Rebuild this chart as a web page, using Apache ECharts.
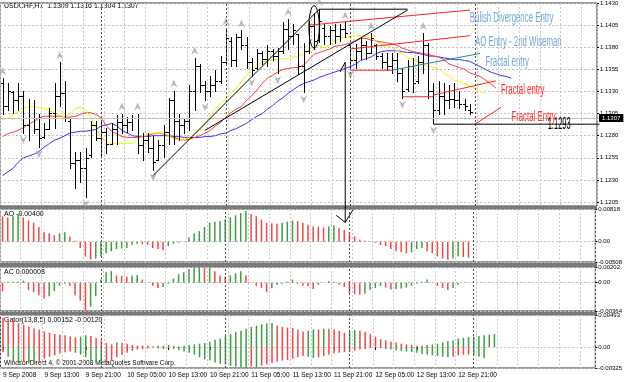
<!DOCTYPE html>
<html>
<head>
<meta charset="utf-8">
<script src="https://cdn.jsdelivr.net/npm/echarts@6/dist/echarts.min.js"></script>
<style>
html, body { margin: 0; padding: 0; background: #fff; }
#chart { width: 625px; height: 382px; }
</style>
</head>
<body>
<div id="chart"></div>
<script>
// USDCHF H1, 9 Sep 05:00 .. 12 Sep 23:00 (91 bars), right side left empty like the terminal
const SLOTS = 115;
const categories = [];
for (let k = 0; k < SLOTS; k++) {
  const h = 5 + k;
  categories.push((9 + Math.floor(h / 24)) + ' Sep ' + String(h % 24).padStart(2, '0') + ':00');
}
const tickIndex = [0, 8, 16, 24, 32, 40, 48, 56, 64, 72, 80, 88];
const tickText = ['9 Sep 2008', '9 Sep 13:00', '9 Sep 21:00', '10 Sep 05:00', '10 Sep 13:00', '10 Sep 21:00',
  '11 Sep 05:00', '11 Sep 13:00', '11 Sep 21:00', '12 Sep 05:00', '12 Sep 13:00', '12 Sep 21:00'];
const daySeparators = [19, 43, 67, 91];
const priceTicks = [1.1205, 1.1230, 1.1255, 1.1280, 1.1305, 1.1330, 1.1355, 1.1380, 1.1405, 1.1430];

const opens = [1.1340,1.1314,1.1329,1.1320,1.1325,1.1292,1.1300,1.1288,1.1279,1.1288,
  1.1306,1.1325,1.1328,1.1297,1.1249,1.1252,1.1243,1.1258,1.1292,1.1277,
  1.1284,1.1271,1.1288,1.1295,1.1292,1.1295,1.1300,1.1269,1.1275,1.1266,
  1.1252,1.1269,1.1284,1.1320,1.1297,1.1292,1.1297,1.1331,1.1359,1.1337,
  1.1331,1.1337,1.1342,1.1363,1.1387,1.1365,1.1391,1.1382,1.1363,1.1357,
  1.1374,1.1367,1.1376,1.1370,1.1376,1.1401,1.1393,1.1395,1.1359,1.1376,
  1.1404,1.1388,1.1402,1.1393,1.1399,1.1393,1.1401,1.1382,1.1365,1.1376,
  1.1382,1.1374,1.1382,1.1370,1.1363,1.1359,1.1365,1.1351,1.1333,1.1359,
  1.1342,1.1363,1.1382,1.1331,1.1309,1.1325,1.1320,1.1322,1.1320,1.1316,
  1.1309];
const highs = [1.1345,1.1340,1.1331,1.1340,1.1331,1.1322,1.1320,1.1305,1.1294,1.1311,
  1.1339,1.1363,1.1342,1.1300,1.1261,1.1261,1.1266,1.1297,1.1297,1.1297,
  1.1289,1.1294,1.1303,1.1305,1.1301,1.1303,1.1305,1.1283,1.1283,1.1280,
  1.1275,1.1292,1.1323,1.1331,1.1305,1.1300,1.1337,1.1368,1.1361,1.1342,
  1.1348,1.1354,1.1370,1.1401,1.1392,1.1395,1.1399,1.1392,1.1368,1.1378,
  1.1376,1.1382,1.1378,1.1379,1.1408,1.1412,1.1406,1.1395,1.1385,1.1410,
  1.1419,1.1423,1.1406,1.1404,1.1406,1.1406,1.1408,1.1384,1.1384,1.1391,
  1.1387,1.1396,1.1384,1.1374,1.1373,1.1374,1.1373,1.1357,1.1365,1.1368,
  1.1370,1.1396,1.1385,1.1339,1.1342,1.1339,1.1337,1.1340,1.1331,1.1322,
  1.1316];
const lows = [1.1305,1.1309,1.1306,1.1309,1.1283,1.1275,1.1283,1.1267,1.1277,1.1288,
  1.1289,1.1314,1.1297,1.1244,1.1221,1.1228,1.1211,1.1256,1.1275,1.1256,
  1.1260,1.1271,1.1271,1.1283,1.1284,1.1286,1.1260,1.1252,1.1261,1.1241,
  1.1252,1.1256,1.1271,1.1271,1.1275,1.1283,1.1286,1.1309,1.1329,1.1320,
  1.1325,1.1331,1.1340,1.1361,1.1359,1.1359,1.1378,1.1357,1.1348,1.1355,
  1.1361,1.1359,1.1365,1.1351,1.1374,1.1378,1.1384,1.1350,1.1329,1.1374,
  1.1378,1.1386,1.1384,1.1384,1.1385,1.1387,1.1391,1.1357,1.1357,1.1367,
  1.1367,1.1373,1.1367,1.1356,1.1354,1.1351,1.1342,1.1323,1.1331,1.1329,
  1.1340,1.1351,1.1323,1.1294,1.1305,1.1305,1.1311,1.1312,1.1311,1.1309,
  1.1304];
const closes = [1.1314,1.1331,1.1320,1.1325,1.1292,1.1300,1.1288,1.1277,1.1288,1.1306,
  1.1325,1.1328,1.1300,1.1249,1.1252,1.1243,1.1255,1.1292,1.1277,1.1284,
  1.1271,1.1288,1.1295,1.1292,1.1295,1.1300,1.1269,1.1275,1.1266,1.1250,
  1.1269,1.1284,1.1320,1.1297,1.1292,1.1297,1.1331,1.1359,1.1337,1.1331,
  1.1337,1.1342,1.1363,1.1390,1.1365,1.1391,1.1382,1.1363,1.1354,1.1374,
  1.1367,1.1376,1.1370,1.1376,1.1401,1.1393,1.1399,1.1359,1.1376,1.1404,
  1.1387,1.1410,1.1393,1.1399,1.1393,1.1401,1.1396,1.1365,1.1376,1.1382,
  1.1374,1.1390,1.1370,1.1363,1.1359,1.1365,1.1351,1.1331,1.1359,1.1340,
  1.1363,1.1382,1.1331,1.1309,1.1325,1.1320,1.1322,1.1320,1.1316,1.1313,
  1.1307];

// Alligator: jaw (blue), teeth (red), lips (yellow), already shifted forward
const jaw = [1.1235,1.1239,1.1243,1.1250,1.1255,1.1257,1.1259,1.1262,1.1267,1.1271,
  1.1275,1.1277,1.1280,1.1283,1.1284,1.1285,1.1285,1.1286,1.1287,1.1291,
  1.1292,1.1294,1.1291,1.1286,1.1283,1.1280,1.1279,1.1279,1.1279,1.1280,
  1.1280,1.1280,1.1280,1.1279,1.1279,1.1278,1.1278,1.1278,1.1278,1.1279,
  1.1279,1.1280,1.1282,1.1283,1.1286,1.1288,1.1291,1.1294,1.1298,1.1302,
  1.1305,1.1310,1.1314,1.1319,1.1323,1.1328,1.1332,1.1336,1.1339,1.1341,
  1.1343,1.1346,1.1348,1.1350,1.1352,1.1354,1.1356,1.1358,1.1361,1.1365,
  1.1367,1.1369,1.1373,1.1375,1.1376,1.1376,1.1376,1.1375,1.1374,1.1374,
  1.1373,1.1372,1.1370,1.1370,1.1369,1.1368,1.1367,1.1366,1.1366,1.1365,
  1.1364,1.1361,1.1358,1.1355,1.1352,1.1350,1.1348,1.1347,1.1345];
const teeth = [1.1279,1.1282,1.1284,1.1286,1.1289,1.1293,1.1296,1.1300,1.1302,1.1302,
  1.1302,1.1302,1.1301,1.1301,1.1302,1.1304,1.1306,1.1306,1.1304,1.1300,
  1.1291,1.1285,1.1282,1.1279,1.1278,1.1278,1.1278,1.1279,1.1280,1.1282,
  1.1283,1.1282,1.1280,1.1278,1.1276,1.1275,1.1276,1.1278,1.1280,1.1283,
  1.1286,1.1291,1.1295,1.1301,1.1306,1.1310,1.1313,1.1320,1.1325,1.1332,
  1.1339,1.1345,1.1348,1.1352,1.1355,1.1356,1.1357,1.1357,1.1360,1.1366,
  1.1372,1.1374,1.1376,1.1378,1.1381,1.1382,1.1383,1.1385,1.1387,1.1390,
  1.1390,1.1388,1.1387,1.1386,1.1385,1.1384,1.1382,1.1379,1.1377,1.1375,
  1.1374,1.1373,1.1372,1.1370,1.1369,1.1366,1.1361,1.1359,1.1357,1.1355,
  1.1351,1.1349,1.1347,1.1343,1.1339,1.1334];
const lips = [1.1298,1.1300,1.1303,1.1307,1.1311,1.1313,1.1313,1.1312,1.1310,1.1309,
  1.1305,1.1303,1.1301,1.1305,1.1311,1.1312,1.1309,1.1301,1.1288,1.1278,
  1.1273,1.1271,1.1271,1.1271,1.1271,1.1271,1.1276,1.1279,1.1282,1.1283,
  1.1283,1.1283,1.1280,1.1276,1.1275,1.1276,1.1278,1.1282,1.1286,1.1293,
  1.1302,1.1311,1.1316,1.1322,1.1328,1.1334,1.1341,1.1348,1.1356,1.1359,
  1.1363,1.1365,1.1366,1.1366,1.1367,1.1367,1.1369,1.1370,1.1372,1.1376,
  1.1382,1.1382,1.1379,1.1383,1.1387,1.1390,1.1391,1.1392,1.1393,1.1393,
  1.1392,1.1390,1.1386,1.1384,1.1382,1.1379,1.1376,1.1373,1.1368,1.1366,
  1.1363,1.1360,1.1358,1.1357,1.1356,1.1351,1.1347,1.1343,1.1341,1.1339,
  1.1336,1.1333,1.1330,1.1328];

const fractalUp = [0, 11, 23, 26, 33, 37, 43, 46, 55, 61, 66, 71, 81];
const fractalDown = [4, 7, 16, 29, 39, 48, 53, 58, 67, 77, 83];

const ao = [0.00634,0.00607,0.00634,0.00686,0.00607,0.00528,0.00475,0.00370,0.00238,0.00211,
  0.00158,0.00211,0.00238,0.00132,0.00026,-0.00158,-0.00370,-0.00449,-0.00422,-0.00370,
  -0.00290,-0.00238,-0.00185,-0.00172,-0.00158,-0.00079,-0.00053,-0.00066,-0.00079,-0.00158,
  -0.00185,-0.00211,-0.00106,-0.00053,-0.00026,0.00008,0.00106,0.00211,0.00264,0.00370,
  0.00475,0.00502,0.00515,0.00554,0.00607,0.00660,0.00713,0.00766,0.00686,0.00634,
  0.00554,0.00475,0.00462,0.00449,0.00475,0.00502,0.00528,0.00515,0.00475,0.00422,
  0.00383,0.00370,0.00356,0.00383,0.00409,0.00343,0.00290,0.00238,0.00132,0.00053,
  0.00026,0.00013,-0.00026,-0.00079,-0.00106,-0.00185,-0.00238,-0.00264,-0.00290,-0.00264,
  -0.00185,-0.00158,-0.00238,-0.00290,-0.00370,-0.00422,-0.00449,-0.00422,-0.00370,-0.00385,
  -0.00400];
const ac = [-0.00108,0.00013,0.00015,0.00016,0.00027,-0.00094,-0.00121,-0.00162,-0.00202,-0.00175,
  -0.00108,-0.00040,-0.00013,-0.00040,-0.00162,-0.00229,-0.00360,-0.00310,-0.00175,0.00040,
  0.00135,0.00148,0.00094,0.00090,0.00081,0.00094,0.00098,0.00040,0.00002,-0.00040,
  -0.00067,-0.00054,-0.00013,0.00054,0.00108,0.00135,0.00175,0.00189,0.00202,0.00189,
  0.00195,0.00148,0.00094,0.00081,0.00094,0.00121,0.00148,0.00094,0.00002,-0.00040,
  -0.00067,-0.00121,-0.00067,-0.00027,-0.00013,0.00013,0.00040,-0.00013,-0.00040,-0.00045,
  -0.00081,-0.00027,0.00002,0.00020,0.00013,-0.00027,-0.00054,-0.00135,-0.00148,-0.00155,
  -0.00141,-0.00094,-0.00067,-0.00040,-0.00061,-0.00088,-0.00081,-0.00074,-0.00061,-0.00040,
  -0.00013,0.00013,0.00040,0.00002,-0.00040,-0.00067,-0.00094,-0.00067,-0.00027,0.00000,
  0.000008];
const gatorUp = [0.0045,0.0043,0.0041,0.0037,0.0034,0.0031,0.0029,0.0027,0.0024,0.0022,
  0.0020,0.0019,0.0018,0.0016,0.0015,0.0016,0.0018,0.0017,0.0014,0.0010,
  0.0006,0.0004,0.0007,0.0006,0.0005,0.0003,0.0002,0.0002,0.0002,0.0001,
  0.0002,0.0002,0.0003,0.0002,0.0001,0.0002,0.0003,0.0004,0.0005,0.0006,
  0.0008,0.0011,0.0013,0.0017,0.0020,0.0023,0.0025,0.0028,0.0031,0.0033,
  0.0035,0.0036,0.0037,0.0033,0.0031,0.0030,0.0029,0.0027,0.0024,0.0025,
  0.0027,0.0027,0.0028,0.0028,0.0027,0.0025,0.0022,0.0024,0.0026,0.0025,
  0.0023,0.0020,0.0016,0.0012,0.0010,0.0008,0.0007,0.0005,0.0004,0.0003,
  0.0002,0.0002,0.0003,0.0004,0.0005,0.0007,0.0009,0.0010,0.0013,0.0014,
  0.00152,0.0016,0.0017,0.0018,0.0019,0.0020];
const gatorDown = [-0.0008,-0.0015,-0.0022,-0.0024,-0.0023,-0.0025,-0.0026,-0.0022,-0.0018,-0.0015,
  -0.0013,-0.0010,-0.0008,-0.0007,-0.0009,-0.0012,-0.0016,-0.0020,-0.0024,-0.0026,
  -0.0025,-0.0021,-0.0016,-0.0012,-0.0009,-0.0006,-0.0004,-0.0003,-0.0002,-0.0001,
  -0.0002,-0.0003,-0.0002,-0.0003,-0.0005,-0.0007,-0.0009,-0.0012,-0.0016,-0.0019,
  -0.0021,-0.0024,-0.0026,-0.0027,-0.0029,-0.0030,-0.0031,-0.0032,-0.0030,-0.0031,
  -0.0029,-0.0027,-0.0025,-0.0023,-0.0021,-0.0020,-0.0018,-0.0016,-0.0014,-0.0015,
  -0.0017,-0.0016,-0.0014,-0.0012,-0.0010,-0.0009,-0.0008,-0.0007,-0.0006,-0.0004,
  -0.0003,-0.0002,-0.0001,-0.0002,-0.0003,-0.0004,-0.0005,-0.0006,-0.0007,-0.0008,
  -0.0009,-0.0011,-0.0012,-0.0013,-0.0014,-0.0015,-0.0016,-0.0015,-0.0013,-0.0012,
  -0.0012,-0.0013,-0.0015,-0.0017];

// hand-drawn objects, in [bar index, price]
const blackLines = [
  [[28.8, 1.1235], [60.6, 1.1423]],
  [[60.6, 1.1423], [77.5, 1.1423]],
  [[39.0, 1.1286], [77.5, 1.1422]],
  [[82.9, 1.1293], [114.5, 1.1293]],
  [[66.2, 1.1363], [66.2, 1.1182]],
  [[65.2, 1.1352], [66.2, 1.1363]]
];
const redLines = [
  [[59.2, 1.1405], [89.5, 1.1422]],
  [[67.0, 1.1378], [89.7, 1.1393]],
  [[67.0, 1.1354], [75.2, 1.1354]],
  [[77.1, 1.1324], [82.9, 1.1324]],
  [[82.9, 1.1326], [94.5, 1.1342]],
  [[91.0, 1.1293], [96.4, 1.1312]]
];
const tealLines = [[[74.6, 1.1354], [92.0, 1.1373]]];
const ellipseMark = [60.0, 1.1403, 1.2, 0.0024];
const arrowTip = [66.2, 1.1182];
const blueNotes = [[90.4, 1.1413, 'Bulish Divergence Entry'], [90.6, 1.1386, 'AO Entry - 2nd Wiseman'], [92.6, 1.1363, 'Fractal entry']];
const redNotes = [[96.4, 1.1332, 'Fractal entry'], [97.6, 1.1301, 'Fractal Entry']];
const levelNote = [104.5, 1.1292, '1.1293'];

const GREEN = '#3f9f3f';
const RED = '#f04848';
const FONT = '"Liberation Sans", Arial, sans-serif';

const chart = echarts.init(document.getElementById('chart'), null, { renderer: 'canvas' });

const grids = [
  { left: 0, width: 597, top: 2, height: 204 },
  { left: 0, width: 597, top: 209, height: 53 },
  { left: 0, width: 597, top: 267, height: 44 },
  { left: 0, width: 597, top: 315, height: 53 }
];
const ranges = [
  [1.12005, 1.1430, priceTicks],
  [-0.00508, 0.00818, [-0.00508, 0, 0.00818]],
  [-0.00364, 0.00202, [-0.00364, 0, 0.00202]],
  [-0.00325, 0.00493, [-0.00325, 0, 0.00493]]
];

const xAxes = grids.map((g, k) => ({
  type: 'category', gridIndex: k, data: categories, boundaryGap: true,
  axisLine: { show: false },
  axisTick: { show: k === 3, alignWithLabel: true, interval: (i) => tickIndex.includes(i), length: 3, lineStyle: { color: '#000' } },
  axisLabel: {
    show: k === 3, interval: (i) => tickIndex.includes(i),
    formatter: (v, i) => tickText[tickIndex.indexOf(i)] || '',
    align: 'left', fontSize: 6.5, fontFamily: FONT, color: '#000', margin: 4
  },
  splitLine: { show: true, interval: 3, lineStyle: { color: '#c8c8c8', type: [2, 2], width: 1 } }
}));

const yAxes = ranges.map((r, k) => ({
  type: 'value', gridIndex: k, position: 'right', min: r[0], max: r[1], scale: true,
  axisLine: { show: false },
  axisTick: { show: true, customValues: r[2], length: 2, lineStyle: { color: '#000' } },
  axisLabel: {
    customValues: r[2], fontSize: 6, fontFamily: FONT, color: '#000', margin: 3,
    formatter: (v) => k === 0 ? v.toFixed(4) : (v === 0 ? '0.00' : v.toFixed(5))
  },
  splitLine: { show: true, lineStyle: { color: '#c0c0c0', type: [2, 2], width: 1 } }
}));

const separators = {
  silent: true, symbol: 'none', animation: false,
  label: { show: false },
  lineStyle: { color: '#505050', type: [2, 2], width: 1 },
  data: daySeparators.map(i => ({ xAxis: i }))
};

// AO / AC: green when the bar is above the previous one
function aoColor(arr) {
  return (p) => (p.dataIndex > 0 && arr[p.dataIndex] > arr[p.dataIndex - 1]) ? GREEN : RED;
}
// Gator: green when the bar grows away from zero
function gatorColor(arr) {
  return (p) => (p.dataIndex > 0 && Math.abs(arr[p.dataIndex]) > Math.abs(arr[p.dataIndex - 1])) ? GREEN : RED;
}

function renderBar(params, api) {
  const i = api.value(0);
  const pO = api.coord([i, api.value(1)]);
  const pH = api.coord([i, api.value(2)]);
  const pL = api.coord([i, api.value(3)]);
  const pC = api.coord([i, api.value(4)]);
  const x = Math.round(pH[0]) + 0.5;
  const st = { stroke: '#000', lineWidth: 1 };
  return {
    type: 'group', children: [
      { type: 'line', shape: { x1: x, y1: Math.round(pH[1]), x2: x, y2: Math.round(pL[1]) + 1 }, style: st },
      { type: 'line', shape: { x1: x - 2.5, y1: Math.round(pO[1]) + 0.5, x2: x, y2: Math.round(pO[1]) + 0.5 }, style: st },
      { type: 'line', shape: { x1: x, y1: Math.round(pC[1]) + 0.5, x2: x + 2.5, y2: Math.round(pC[1]) + 0.5 }, style: st }
    ]
  };
}

function renderNotes(params, api) {
  const kids = [];
  const seg = (list, color) => list.forEach(([a, b]) => {
    const p1 = api.coord(a), p2 = api.coord(b);
    kids.push({ type: 'line', shape: { x1: p1[0], y1: p1[1], x2: p2[0], y2: p2[1] }, style: { stroke: color, lineWidth: 1 } });
  });
  seg(redLines, '#ff2020');
  seg(tealLines, '#2a8a8a');
  seg(blackLines, '#000');
  const c = api.coord([ellipseMark[0], ellipseMark[1]]);
  const sz = api.size([ellipseMark[2], ellipseMark[3]]);
  kids.push({ type: 'ellipse', shape: { cx: c[0], cy: c[1], rx: sz[0], ry: sz[1] }, style: { fill: 'none', stroke: '#000', lineWidth: 1 } });
  const t = api.coord(arrowTip);
  kids.push({ type: 'polyline', shape: { points: [[t[0] - 9, t[1] - 7], [t[0], t[1]], [t[0] + 8, t[1] - 13]] }, style: { fill: 'none', stroke: '#000', lineWidth: 1 } });
  const note = (n, color, size, sx) => {
    const p = api.coord([n[0], n[1]]);
    kids.push({
      type: 'text', x: p[0], y: p[1], scaleX: sx,
      style: { text: n[2], fill: color, font: size + 'px ' + FONT, verticalAlign: 'middle', align: 'left' }
    });
  };
  blueNotes.forEach(n => note(n, '#72a8dc', 14, 0.56));
  redNotes.forEach(n => note(n, '#ff3030', 14, 0.56));
  note(levelNote, '#000', 16, 0.47);
  return { type: 'group', children: kids };
}

const option = {
  animation: false,
  backgroundColor: '#fff',
  grid: grids.map(g => Object.assign({ show: true, borderColor: '#333', borderWidth: 1, backgroundColor: 'transparent' }, g)),
  xAxis: xAxes,
  yAxis: yAxes,
  series: [
    {
      type: 'line', name: 'Jaw', xAxisIndex: 0, yAxisIndex: 0, data: jaw, showSymbol: false,
      lineStyle: { color: '#3434ff', width: 1 }, markLine: separators, z: 2
    },
    { type: 'line', name: 'Teeth', xAxisIndex: 0, yAxisIndex: 0, data: teeth, showSymbol: false, lineStyle: { color: '#ff3a3a', width: 1 }, z: 2 },
    { type: 'line', name: 'Lips', xAxisIndex: 0, yAxisIndex: 0, data: lips, showSymbol: false, lineStyle: { color: '#f4f400', width: 1 }, z: 2 },
    {
      type: 'custom', name: 'USDCHF', xAxisIndex: 0, yAxisIndex: 0,
      data: opens.map((o, i) => [i, o, highs[i], lows[i], closes[i]]),
      encode: { x: 0, y: [1, 2, 3, 4] }, renderItem: renderBar, z: 3,
      markLine: {
        silent: true, symbol: 'none', animation: false,
        data: [{ yAxis: 1.1307 }],
        lineStyle: { color: '#c0c0c0', type: 'solid', width: 1 },
        label: { show: true, position: 'end', formatter: '1.1307', backgroundColor: '#000', color: '#fff', fontSize: 6, fontFamily: FONT, padding: [1, 3, 1, 3], distance: 2 }
      }
    },
    {
      type: 'scatter', xAxisIndex: 0, yAxisIndex: 0, data: fractalUp.map(i => [i, highs[i]]),
      symbol: 'path://M5,0L10,9L5,6L0,9Z', symbolSize: [7, 8], symbolOffset: [0, -7],
      itemStyle: { color: '#a8a8a8' }, z: 2
    },
    {
      type: 'scatter', xAxisIndex: 0, yAxisIndex: 0, data: fractalDown.map(i => [i, lows[i]]),
      symbol: 'path://M5,9L10,0L5,3L0,0Z', symbolSize: [7, 8], symbolOffset: [0, 7],
      itemStyle: { color: '#a8a8a8' }, z: 2
    },
    {
      type: 'custom', xAxisIndex: 0, yAxisIndex: 0, data: [[0, 1.13]], clip: false,
      renderItem: renderNotes, silent: true, z: 10
    },
    {
      type: 'bar', name: 'AO', xAxisIndex: 1, yAxisIndex: 1, data: ao, barWidth: 1.5,
      itemStyle: { color: aoColor(ao) }, markLine: separators
    },
    {
      type: 'bar', name: 'AC', xAxisIndex: 2, yAxisIndex: 2, data: ac, barWidth: 1.5,
      itemStyle: { color: aoColor(ac) }, markLine: separators
    },
    {
      type: 'bar', name: 'Gator up', xAxisIndex: 3, yAxisIndex: 3, data: gatorUp, barWidth: 1.5, barGap: '-100%',
      itemStyle: { color: gatorColor(gatorUp) }, markLine: separators
    },
    {
      type: 'bar', name: 'Gator down', xAxisIndex: 3, yAxisIndex: 3, data: gatorDown, barWidth: 1.5, barGap: '-100%',
      itemStyle: { color: gatorColor(gatorDown) }
    }
  ],
  graphic: [
    { type: 'rect', left: 0, top: 206, shape: { width: 597, height: 3 }, style: { fill: '#7a7a7a' }, silent: true },
    { type: 'rect', left: 0, top: 263, shape: { width: 597, height: 4 }, style: { fill: '#7a7a7a' }, silent: true },
    { type: 'rect', left: 0, top: 311, shape: { width: 597, height: 4 }, style: { fill: '#7a7a7a' }, silent: true },
    { type: 'text', left: 4, top: 3, style: { text: 'USDCHF,H1  1.1309 1.1316 1.1304 1.1307', fill: '#000', font: '7px ' + FONT } },
    { type: 'text', left: 4, top: 211, style: { text: 'AO -0.00400', fill: '#000', font: '7px ' + FONT } },
    { type: 'text', left: 4, top: 269, style: { text: 'AC 0.000008', fill: '#000', font: '7px ' + FONT } },
    { type: 'text', left: 4, top: 317, style: { text: 'Gator(13,8,5) 0.00152 -0.00120', fill: '#000', font: '7px ' + FONT } },
    { type: 'text', left: 4, top: 360, style: { text: 'Windsor Direct 4, \u00a9 2001-2008 MetaQuotes Software Corp.', fill: '#000', font: '6.5px ' + FONT } }
  ]
};

chart.setOption(option);
</script>
</body>
</html>
